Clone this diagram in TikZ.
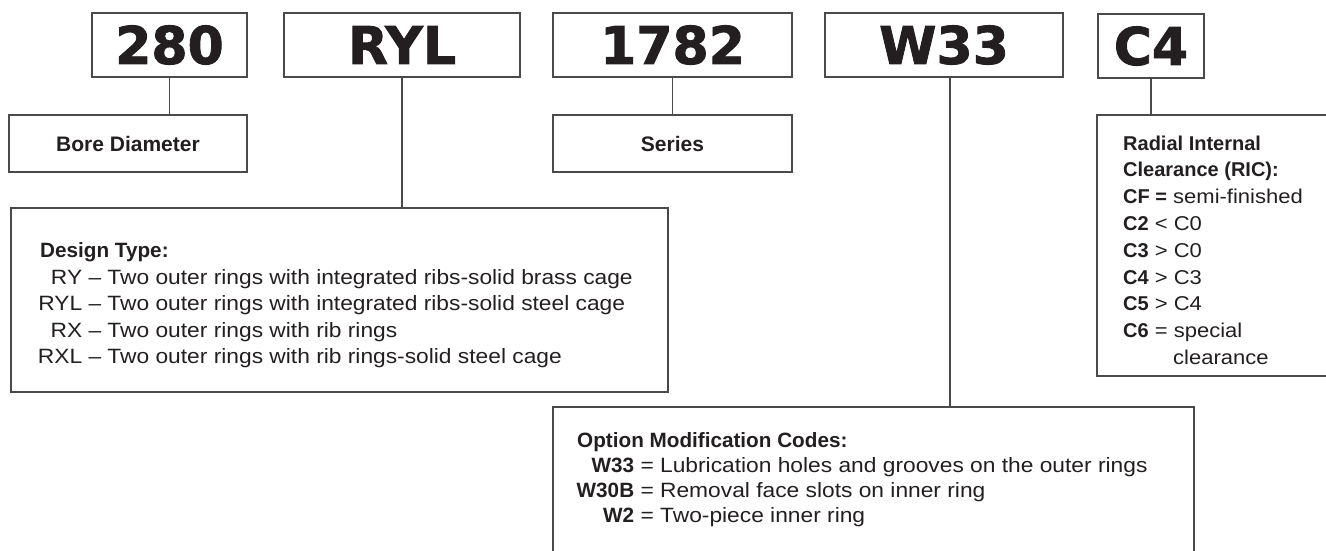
\documentclass[tikz,border=0pt]{standalone}
\usepackage{fontspec}
\setmainfont{Liberation Sans}
\newfontfamily\widefont{Liberation Sans}[FakeStretch=1.1,Ligatures=TeX]
\newfontfamily\codefont{DejaVu Sans}[BoldFeatures={FakeBold=1.6}]
\definecolor{txt}{HTML}{231F20}
\definecolor{linec}{HTML}{4A4A4A}
\newcommand{\cb}[1]{{\rmfamily\bfseries #1}}
\newcommand{\bodyfnt}{\widefont\fontsize{20.7}{25}\selectfont}
\newcommand{\ricfnt}{\widefont\fontsize{20}{25}\selectfont}
\begin{document}
\begin{tikzpicture}[x=1pt,y=-1pt,
  codebox/.style={draw=linec, line width=1.2pt, inner sep=0pt, outer sep=0pt, text=txt,
    font=\codefont\bfseries\fontsize{52}{52}\selectfont},
  lblbox/.style={draw=linec, line width=1.2pt, inner sep=0pt, outer sep=0pt, text=txt,
    font=\rmfamily\bfseries\fontsize{21}{25}\selectfont},
  panel/.style={draw=linec, line width=1.2pt, inner sep=0pt, outer sep=0pt},
  link/.style={draw=linec, line width=1.2pt},
  bodytext/.style={anchor=base west, inner sep=0pt, text=txt, font=\bodyfnt},
  rictext/.style={anchor=base west, inner sep=0pt, text=txt, font=\ricfnt}
]
\useasboundingbox (0,0) rectangle (1326,550);
\clip (0,0) rectangle (1326,550);

% top code boxes
\node[codebox, minimum width=155, minimum height=64] (b280) at (169.5,45) {280};
\node[codebox, minimum width=236, minimum height=64] (bRYL) at (402,45) {RYL};
\node[codebox, minimum width=239, minimum height=64] (b1782) at (672.5,45) {1782};
\node[codebox, minimum width=238, minimum height=64] (bW33) at (944,45) {W33};
\node[codebox, minimum width=106, minimum height=64] (bC4) at (1151,46) {C4};

% label boxes
\node[lblbox, minimum width=238, minimum height=57] (bore) at (128,143.5) {Bore Diameter};
\node[lblbox, minimum width=239, minimum height=57] (series) at (672.5,143.5) {Series};

% panels
\node[panel, minimum width=657, minimum height=184] (design) at (339.5,300) {};
\node[panel, minimum width=641, minimum height=153] (option) at (873.5,483.5) {};
\node[panel, minimum width=243, minimum height=261] (ric) at (1218.5,245.5) {};

% connectors
\draw[link] (b280.south) -- (b280.south |- bore.north);
\draw[link] (bRYL.south) -- (bRYL.south |- design.north);
\draw[link] (b1782.south) -- (b1782.south |- series.north);
\draw[link] ([xshift=6pt]bW33.south) -- ([xshift=6pt]bW33.south |- option.north);
\draw[link] (bC4.south) -- (bC4.south |- ric.north);

% design type text
\node[bodytext] (d0) at (40,257.5) {\cb{Design Type:}};
\node[bodytext] (d1) at (42,284) {\makebox[40pt][r]{RY} – Two outer rings with integrated ribs-solid brass cage};
\node[bodytext] (d2) at (42,310.5) {\makebox[40pt][r]{RYL} – Two outer rings with integrated ribs-solid steel cage};
\node[bodytext] (d3) at (42,337) {\makebox[40pt][r]{RX} – Two outer rings with rib rings};
\node[bodytext] (d4) at (42,363.5) {\makebox[40pt][r]{RXL} – Two outer rings with rib rings-solid steel cage};

% option text
\node[bodytext] (o0) at (577,447) {\cb{Option Modification Codes:}};
\node[bodytext] (o1) at (577,472.5) {\makebox[57pt][r]{\cb{W33}} = Lubrication holes and grooves on the outer rings};
\node[bodytext] (o2) at (577,497.5) {\makebox[57pt][r]{\cb{W30B}} = Removal face slots on inner ring};
\node[bodytext] (o3) at (577,522.5) {\makebox[57pt][r]{\cb{W2}} = Two-piece inner ring};

% RIC text
\node[rictext] (r0) at (1123,150) {\cb{Radial Internal}};
\node[rictext] (r1) at (1123,176.8) {\cb{Clearance (RIC):}};
\node[rictext] (r2) at (1123,203.6) {\cb{CF =} semi-finished};
\node[rictext] (r3) at (1123,230.4) {\cb{C2} < C0};
\node[rictext] (r4) at (1123,257.2) {\cb{C3} > C0};
\node[rictext] (r5) at (1123,284) {\cb{C4} > C3};
\node[rictext] (r6) at (1123,310.8) {\cb{C5} > C4};
\node[rictext] (r7) at (1123,337.6) {\cb{C6} = special};
\node[rictext] (r8) at (1173,364.4) {clearance};
\end{tikzpicture}
\end{document}
